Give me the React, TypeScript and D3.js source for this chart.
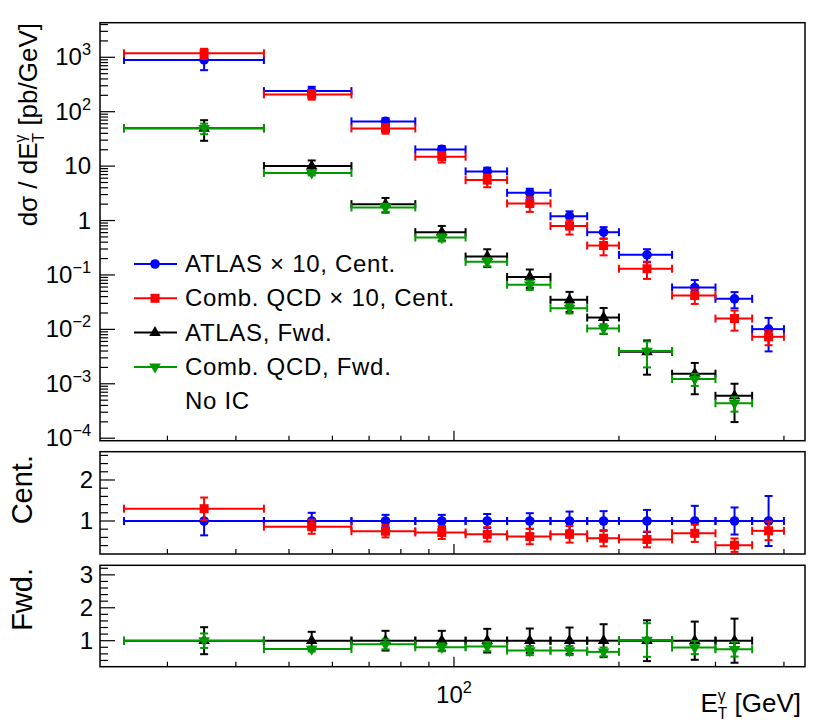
import { useEffect, useRef } from 'react';
import * as d3 from 'd3';

// bin edges in E_T^gamma [GeV]
const binEdges = [25, 45, 65, 85, 105, 125, 150, 175, 200, 250, 300, 350, 400];

// top panel, central values are shown x10
const atlasCent = [892, 239, 66.4, 20.3, 8.0, 3.23, 1.2, 0.61, 0.234, 0.0588, 0.0364, 0.0101];
const atlasCentErr = [0.35, 0.2, 0.15, 0.15, 0.17, 0.19, 0.23, 0.24, 0.27, 0.37, 0.33, 0.61];
const qcdCent = [1184, 208, 49.3, 14.9, 5.53, 2.06, 0.79, 0.347, 0.13, 0.0419, 0.0158, 0.0073];
const qcdCentErr = [0.21, 0.2, 0.2, 0.22, 0.26, 0.3, 0.3, 0.34, 0.35, 0.3, 0.4, 0.3];
const atlasFwd = [49.5, 10, 2.0, 0.612, 0.218, 0.092, 0.0349, 0.0165, 0.00387, 0.00153, 0.0006];
const atlasFwdErr = [0.41, 0.27, 0.3, 0.3, 0.36, 0.37, 0.4, 0.5, 0.62, 0.58, 0.67];
const qcdFwd = [49.5, 7.5, 1.74, 0.487, 0.174, 0.066, 0.0245, 0.0104, 0.004, 0.00122, 0.00044];
const qcdFwdErr = [0.22, 0.1, 0.17, 0.15, 0.17, 0.2, 0.2, 0.2, 0.5, 0.25, 0.3];

// ratio panels (relative to ATLAS)
const ratioAtlasCent = [1, 1, 1, 1, 1, 1, 1, 1, 1, 1, 1, 1];
const ratioQcdCent = [1.3, 0.86, 0.75, 0.72, 0.675, 0.62, 0.675, 0.58, 0.55, 0.7, 0.41, 0.76];
const ratioAtlasFwd = [1, 1, 1, 1, 1, 1, 1, 1, 1, 1, 1];
const ratioQcdFwd = [1.0, 0.745, 0.89, 0.8, 0.82, 0.7, 0.7, 0.66, 1.02, 0.79, 0.74];

const legendLabels = ['ATLAS \u00d7 10, Cent.', 'Comb. QCD \u00d7 10, Cent.', 'ATLAS, Fwd.', 'Comb. QCD, Fwd.'];

const BLUE = '#0000ff';
const RED = '#ff0000';
const BLACK = '#000000';
const GREEN = '#009900';
const FONT = '"Liberation Sans", Arial, Helvetica, sans-serif';

type Marker = 'circle' | 'square' | 'triUp' | 'triDown';

const symbolPath = (m: Marker) => {
  if (m === 'circle') return d3.symbol(d3.symbolCircle, 72)();
  if (m === 'square') return d3.symbol(d3.symbolSquare, 81)();
  return d3.symbol(d3.symbolTriangle, 58)();
};

const App = () => {
  const svgRef = useRef<SVGSVGElement>(null);

  useEffect(() => {
    if (!svgRef.current) return;
    const svg = d3.select(svgRef.current);
    svg.selectAll('*').remove();

    const left = 100;
    const right = 805;
    const panels = {
      top: [22.7, 440.7],
      mid: [451.7, 554],
      bot: [565.3, 666.7],
    };

    const x = d3.scaleLog().domain([22.6, 437]).range([left, right]);
    const yTop = d3.scaleLog().domain([9.0e-5, 4.32e3]).range([panels.top[1], panels.top[0]]);
    const yMid = d3.scaleLinear().domain([0.195, 2.69]).range([panels.mid[1], panels.mid[0]]);
    const yBot = d3.scaleLinear().domain([0.21, 3.29]).range([panels.bot[1], panels.bot[0]]);

    svg.append('rect')
      .attr('width', 830).attr('height', 725).attr('fill', '#ffffff');

    // text with a superscript
    const addSup = (sel: any, base: string, sup: string, size: number) => {
      sel.append('tspan').text(base);
      sel.append('tspan')
        .attr('font-size', size * 0.68)
        .attr('dy', -size * 0.42)
        .text(sup);
    };

    // E with stacked subscript T and superscript gamma
    const addET = (sel: any, size: number, tail: string, pre: string) => {
      sel.append('tspan').text(pre + 'E');
      const g = sel.append('tspan')
        .attr('font-size', size * 0.6)
        .attr('dy', -size * 0.42)
        .text('\u03b3');
      const gw = (g.node() as SVGTSpanElement).getComputedTextLength();
      const t = sel.append('tspan')
        .attr('font-size', size * 0.6)
        .attr('dx', -gw)
        .attr('dy', size * 0.68)
        .text('T');
      const tw = (t.node() as SVGTSpanElement).getComputedTextLength();
      sel.append('tspan')
        .attr('dx', Math.max(0, gw - tw))
        .attr('dy', -size * 0.26)
        .text(tail);
    };

    // frames and axes
    const drawXTicks = (yb: number) => {
      const minor = [30, 40, 50, 60, 70, 80, 90, 200, 300, 400];
      minor.forEach(v => {
        svg.append('line')
          .attr('x1', x(v)).attr('x2', x(v))
          .attr('y1', yb).attr('y2', yb - 5)
          .attr('stroke', '#000').attr('stroke-width', 1.2);
      });
      svg.append('line')
        .attr('x1', x(100)).attr('x2', x(100))
        .attr('y1', yb).attr('y2', yb - 10)
        .attr('stroke', '#000').attr('stroke-width', 1.2);
    };

    const drawYTick = (yv: number, len: number) => {
      svg.append('line')
        .attr('x1', left).attr('x2', left + len)
        .attr('y1', yv).attr('y2', yv)
        .attr('stroke', '#000').attr('stroke-width', 1.2);
    };

    // top panel log ticks
    for (let k = -4; k <= 3; k++) {
      const major = Math.pow(10, k);
      drawYTick(yTop(major), 15);
      const lab = svg.append('text')
        .attr('x', 91).attr('y', yTop(major) + 8)
        .attr('text-anchor', 'end')
        .attr('font-family', FONT)
        .attr('font-size', 24)
        .attr('fill', '#000');
      if (k === 0) lab.text('1');
      else if (k === 1) lab.text('10');
      else addSup(lab, '10', k < 0 ? `\u2212${-k}` : `${k}`, 24);
      for (let m = 2; m <= 9; m++) {
        const v = m * major;
        const [d0, d1] = yTop.domain();
        if (v > d0 && v < d1) drawYTick(yTop(v), 8);
      }
    }

    // ratio panels linear ticks
    const linearTicks = (y: d3.ScaleLinear<number, number>, lo: number, hi: number, labels: number[]) => {
      for (let v = lo; v <= hi + 1e-9; v += 0.2) {
        const vv = Math.round(v * 10) / 10;
        const isMajor = Math.abs(vv - Math.round(vv)) < 1e-6;
        drawYTick(y(vv), isMajor ? 15 : 8);
      }
      labels.forEach(v => {
        svg.append('text')
          .attr('x', 93).attr('y', y(v) + 8.5)
          .attr('text-anchor', 'end')
          .attr('font-family', FONT)
          .attr('font-size', 24)
          .attr('fill', '#000')
          .text(String(v));
      });
    };
    linearTicks(yMid, 0.4, 2.6, [1, 2]);
    linearTicks(yBot, 0.4, 3.2, [1, 2, 3]);

    Object.values(panels).forEach(([t, b]) => {
      drawXTicks(b);
      svg.append('rect')
        .attr('x', left).attr('y', t)
        .attr('width', right - left).attr('height', b - t)
        .attr('fill', 'none')
        .attr('stroke', '#000').attr('stroke-width', 1.5);
    });

    // series drawing
    const drawSeries = (
      y: any, values: number[], rel: number[], color: string, marker: Marker
    ) => {
      const g = svg.append('g');
      values.forEach((v, i) => {
        const lo = binEdges[i];
        const hi = binEdges[i + 1];
        const cx = x((lo + hi) / 2);
        const cy = y(v);
        const yUp = y(v * (1 + rel[i]));
        const yDn = y(v * (1 - rel[i]));
        const seg = (x1: number, y1: number, x2: number, y2: number) =>
          g.append('line')
            .attr('x1', x1).attr('y1', y1).attr('x2', x2).attr('y2', y2)
            .attr('stroke', color).attr('stroke-width', 2);
        seg(x(lo), cy, x(hi), cy);
        seg(x(lo), cy - 4, x(lo), cy + 4);
        seg(x(hi), cy - 4, x(hi), cy + 4);
        seg(cx, yUp, cx, yDn);
        seg(cx - 4, yUp, cx + 4, yUp);
        seg(cx - 4, yDn, cx + 4, yDn);
        g.append('path')
          .attr('d', symbolPath(marker))
          .attr('transform', `translate(${cx},${cy})${marker === 'triDown' ? ' rotate(180)' : ''}`)
          .attr('fill', color);
      });
    };

    // Top panel
    drawSeries(yTop, atlasCent, atlasCentErr, BLUE, 'circle');
    drawSeries(yTop, qcdCent, qcdCentErr, RED, 'square');
    drawSeries(yTop, atlasFwd, atlasFwdErr, BLACK, 'triUp');
    drawSeries(yTop, qcdFwd, qcdFwdErr, GREEN, 'triDown');

    // Central ratio
    drawSeries(yMid, ratioAtlasCent, atlasCentErr, BLUE, 'circle');
    drawSeries(yMid, ratioQcdCent, qcdCentErr, RED, 'square');

    // Forward ratio
    drawSeries(yBot, ratioAtlasFwd, atlasFwdErr, BLACK, 'triUp');
    drawSeries(yBot, ratioQcdFwd, qcdFwdErr, GREEN, 'triDown');

    // Legend
    const legendColors = [BLUE, RED, BLACK, GREEN];
    const legendMarkers: Marker[] = ['circle', 'square', 'triUp', 'triDown'];
    const rowY = (i: number) => 264 + i * 34.3;
    const legendText = (label: string, yy: number) =>
      svg.append('text')
        .attr('x', 185).attr('y', yy + 8)
        .attr('font-family', FONT).attr('font-size', 24)
        .attr('letter-spacing', 0.7)
        .attr('fill', '#000')
        .text(label);
    legendLabels.forEach((label, i) => {
      svg.append('line')
        .attr('x1', 134).attr('x2', 177)
        .attr('y1', rowY(i)).attr('y2', rowY(i))
        .attr('stroke', legendColors[i]).attr('stroke-width', 2);
      svg.append('path')
        .attr('d', symbolPath(legendMarkers[i]))
        .attr('transform', `translate(155,${rowY(i)})${legendMarkers[i] === 'triDown' ? ' rotate(180)' : ''}`)
        .attr('fill', legendColors[i]);
      legendText(label, rowY(i));
    });
    legendText('No IC', rowY(4));

    // x label
    const xLab = svg.append('text')
      .attr('x', x(100)).attr('y', 703)
      .attr('text-anchor', 'middle')
      .attr('font-family', FONT).attr('font-size', 24)
      .attr('fill', '#000');
    addSup(xLab, '10', '2', 24);

    const xTitle = svg.append('text')
      .attr('x', 801).attr('y', 712)
      .attr('text-anchor', 'end')
      .attr('font-family', FONT).attr('font-size', 26)
      .attr('fill', '#000');
    addET(xTitle, 26, ' [GeV]', '');

    // y titles
    const yTitle = svg.append('text')
      .attr('transform', 'translate(37,23) rotate(-90)')
      .attr('text-anchor', 'end')
      .attr('font-family', FONT).attr('font-size', 26)
      .attr('fill', '#000');
    addET(yTitle, 26, ' [pb/GeV]', 'd\u03c3 / d');

    svg.append('text')
      .attr('transform', 'translate(32,455) rotate(-90)')
      .attr('text-anchor', 'end')
      .attr('font-family', FONT).attr('font-size', 29)
      .attr('fill', '#000')
      .text('Cent.');

    svg.append('text')
      .attr('transform', 'translate(32,568) rotate(-90)')
      .attr('text-anchor', 'end')
      .attr('font-family', FONT).attr('font-size', 29)
      .attr('fill', '#000')
      .text('Fwd.');
  }, []);

  return (
    <div style={{ position: 'absolute', left: 0, top: 0 }}>
      <svg ref={svgRef} width={830} height={725} style={{ display: 'block' }} />
    </div>
  );
};

export default App;
